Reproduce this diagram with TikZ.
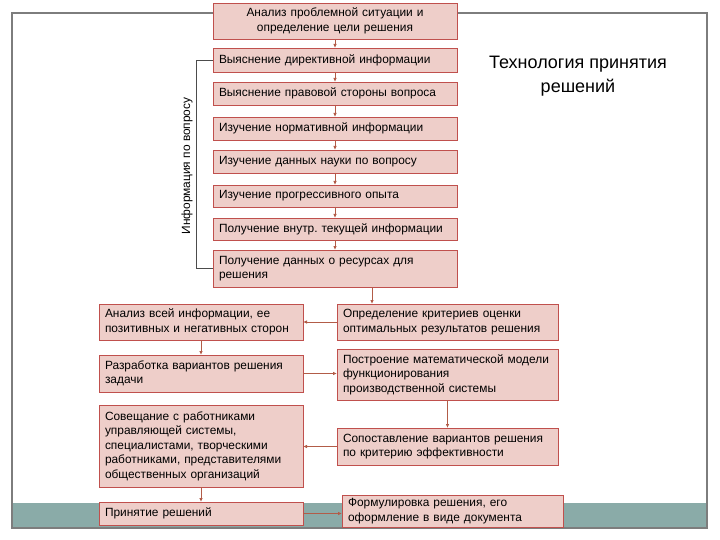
\documentclass[tikz,border=0pt]{standalone}
\usepackage{fontspec}
\setmainfont{Liberation Sans}
\usetikzlibrary{arrows.meta}
\frenchspacing
\definecolor{boxfill}{RGB}{238,206,201}
\definecolor{boxline}{RGB}{192,80,77}
\definecolor{arrline}{RGB}{178,92,72}
\definecolor{framegray}{RGB}{125,125,125}
\definecolor{bandteal}{RGB}{138,171,168}
\begin{document}
\begin{tikzpicture}[x=1pt, y=-1pt,
  every node/.style={font=\fontsize{11.9}{14.5}\selectfont},
  box/.style={draw=boxline, fill=boxfill, line width=0.8pt, anchor=north west,
    align=left, inner xsep=6pt, inner ysep=1pt, outer sep=0pt},
  mainbox/.style={box, text width=232pt},
  leftbox/.style={box, text width=192pt},
  rightbox/.style={box, text width=209pt},
  arr/.style={draw=arrline, line width=0.9pt, -{Latex[length=4pt,width=3.5pt]}}]

  \useasboundingbox (0,0) rectangle (720,540);
  % slide frame and band
  \fill[bandteal] (12,503) rectangle (707,528);
  \draw[framegray, line width=1.2pt] (12,13) rectangle (707,528);

  % main chain
  \node[mainbox, minimum height=36pt, align=center] (b1) at (213,3)
    {Анализ проблемной ситуации и\\определение цели решения};
  \node[mainbox, minimum height=24pt] (b2) at (213,48) {Выяснение директивной информации};
  \node[mainbox, minimum height=23pt] (b3) at (213,82) {Выяснение правовой стороны вопроса};
  \node[mainbox, minimum height=23pt] (b4) at (213,117) {Изучение нормативной информации};
  \node[mainbox, minimum height=23pt] (b5) at (213,150) {Изучение данных науки по вопросу};
  \node[mainbox, minimum height=22pt] (b6) at (213,185) {Изучение прогрессивного опыта};
  \node[mainbox, minimum height=22pt] (b7) at (213,218) {Получение внутр. текущей информации};
  \node[mainbox, minimum height=37pt] (b8) at (213,250) {Получение данных о ресурсах для\\решения};

  \node[font=\fontsize{18}{24}\selectfont, align=center] (title) at (578,76)
    {Технология принятия\\решений};

  % bracket
  \coordinate (br) at (196,0);
  \draw[black!70, line width=0.8pt] (b2.west) -- (b2.west -| br) |- (b8.west);
  \node[rotate=90] (info) at (187,166) {Информация по вопросу};

  % left column
  \node[leftbox, minimum height=36pt] (l1) at (99,304)
    {Анализ всей информации, ее\\позитивных и негативных сторон};
  \node[leftbox, minimum height=37pt] (l2) at (99,355)
    {Разработка вариантов решения\\задачи};
  \node[leftbox, minimum height=82pt] (l3) at (99,405)
    {Совещание с работниками\\управляющей системы,\\специалистами, творческими\\работниками, представителями\\общественных организаций};
  \node[leftbox, minimum height=23pt] (l4) at (99,502) {Принятие решений};

  % right column
  \node[rightbox, minimum height=36pt] (r1) at (337,304)
    {Определение критериев оценки\\оптимальных результатов решения};
  \node[rightbox, minimum height=51pt] (r2) at (337,349)
    {Построение математической модели\\функционирования\\производственной системы};
  \node[rightbox, minimum height=37pt] (r3) at (337,428)
    {Сопоставление вариантов решения\\по критерию эффективности};
  \node[rightbox, minimum height=32pt] (r4) at (342,495)
    {Формулировка решения, его\\оформление в виде документа};

  % connectors
  \draw[arr] (b1) -- (b2);
  \draw[arr] (b2) -- (b3);
  \draw[arr] (b3) -- (b4);
  \draw[arr] (b4) -- (b5);
  \draw[arr] (b5) -- (b6);
  \draw[arr] (b6) -- (b7);
  \draw[arr] (b7) -- (b8);
  \coordinate (dn) at (372,0);
  \draw[arr] (b8.south -| dn) -- (r1.north -| dn);
  \draw[arr] (r1) -- (l1);
  \draw[arr] (l1) -- (l2);
  \draw[arr] (l2.east) -- (l2.east -| r2.west);
  \draw[arr] (r2) -- (r3);
  \draw[arr] (r3.west) -- (r3.west -| l3.east);
  \draw[arr] (l3) -- (l4);
  \draw[arr] (l4.east) -- (l4.east -| r4.west);
\end{tikzpicture}
\end{document}
